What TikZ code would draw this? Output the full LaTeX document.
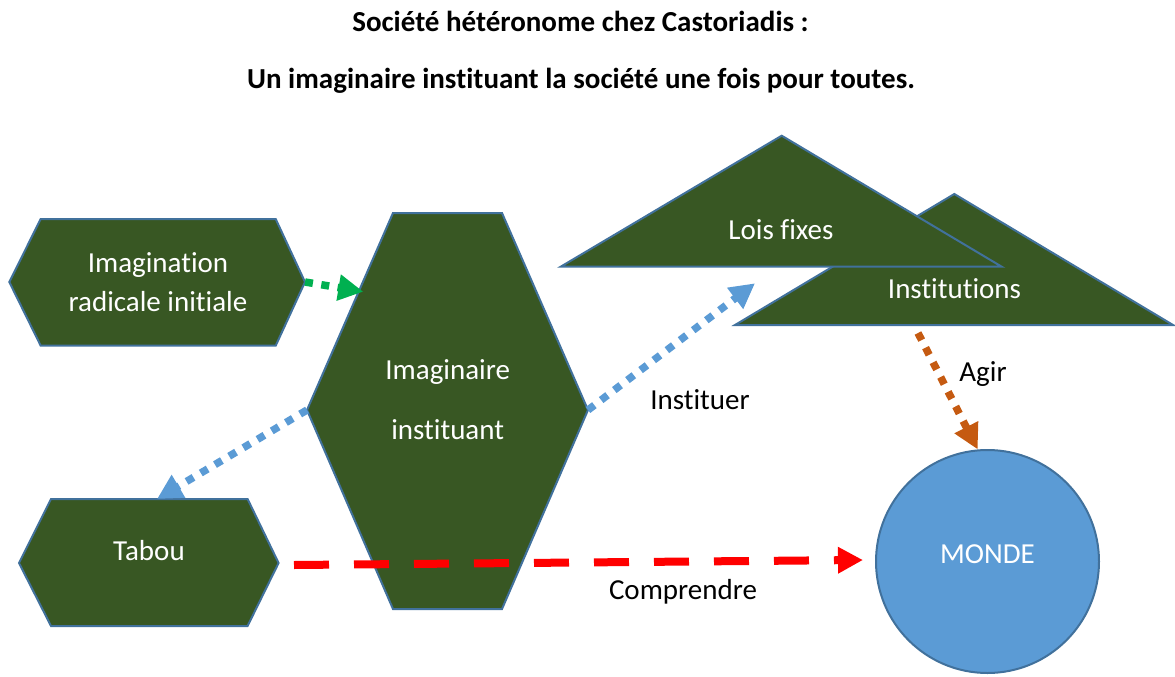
\documentclass[tikz,border=0pt]{standalone}
\usepackage{fontspec}
\setmainfont{Carlito}[Ligatures={NoCommon}]
\usetikzlibrary{arrows.meta}
\definecolor{shapegreen}{HTML}{385723}
\definecolor{edgeblue}{HTML}{41719C}
\definecolor{lightblue}{HTML}{5B9BD5}
\definecolor{dotgreen}{HTML}{00B050}
\definecolor{dotorange}{HTML}{C55A11}
\definecolor{dashred}{HTML}{FF0000}
\begin{document}
\begin{tikzpicture}[x=1pt,y=-1pt,
  shapefill/.style={fill=shapegreen, draw=edgeblue, line width=2pt, line join=miter},
  intext/.style={text=white, font=\fontsize{29}{38.3}\selectfont, inner sep=0pt, anchor=base},
  lbl/.style={text=black, font=\fontsize{29}{35}\selectfont, inner sep=0pt, anchor=base},
  titletext/.style={text=black, font=\bfseries\fontsize{29}{35}\selectfont, inner sep=0pt, anchor=base},
  headtri/.style={-{Triangle[length=25pt,width=25pt]}},
  dotline/.style={headtri, line width=7.5pt, dash pattern=on 8pt off 8.5pt},
  dashline/.style={headtri, line width=8pt, dash pattern=on 35pt off 25pt, draw=dashred}
]
\useasboundingbox (0,0) rectangle (1175,677);

% titles
\node[titletext] (t1) at (580.5,32) {Société hétéronome chez Castoriadis :};
\node[titletext] (t2) at (581,88.3) {Un imaginaire instituant la société une fois pour toutes.};

% Imagination radicale initiale
\draw[shapefill] (9.3,282) -- (40.7,219) -- (275.7,219) -- (305,282) -- (275.7,345.7) -- (40.7,345.7) -- cycle;
\node[intext] (imagination) at (158,272.7) {\begin{tabular}[t]{@{}c@{}}Imagination\\radicale initiale\end{tabular}};
\coordinate (imaginationE) at (305,282);

% Imaginaire instituant
\draw[shapefill] (307,410) -- (393,213) -- (502,213) -- (588,410) -- (502,609) -- (393,609) -- cycle;
\node[intext, font=\fontsize{29}{60}\selectfont] (imaginaire) at (447.7,379.3) {\begin{tabular}[t]{@{}c@{}}Imaginaire\\instituant\end{tabular}};
\coordinate (imaginaireW) at (307,410);
\coordinate (imaginaireE) at (588,410);
\coordinate (imaginaireHit) at (363.3,291.7);

% Tabou
\draw[shapefill] (19,563) -- (51,499) -- (247.6,499) -- (278.6,563) -- (247.6,626) -- (51,626) -- cycle;
\node[intext] (tabou) at (149,560.7) {Tabou};
\coordinate (tabouTop) at (157,499);

% Institutions (behind) and Lois fixes (front)
\draw[shapefill] (735,325) -- (954.3,194) -- (1173,325) -- cycle;
\node[intext] (institutions) at (954.5,298) {Institutions};
\draw[shapefill] (560.7,266.7) -- (781.7,135.7) -- (1001.7,266.7) -- cycle;
\node[intext] (lois) at (781,239.3) {Lois fixes};
\coordinate (loisHit) at (755,283.3);
\coordinate (institutionsOut) at (918,333);

% MONDE
\node[circle, fill=lightblue, draw=edgeblue, line width=2pt, minimum size=223pt, inner sep=0pt,
      text=white, font=\fontsize{29}{35}\selectfont, text depth=15.4pt] (monde) at (987.5,561.5) {MONDE};

% connectors
\draw[dotline, draw=dotgreen] (imaginationE) -- (imaginaireHit);
\draw[dotline, draw=lightblue] (imaginaireE) -- (loisHit);
\draw[dotline, draw=lightblue] (imaginaireW) -- (tabouTop);
\draw[dotline, draw=dotorange] (institutionsOut) -- (monde.95);
\coordinate (redStart) at (294,565);
\coordinate (redEnd) at (863,560);
\draw[dashline] (redStart) -- (redEnd);

% labels
\node[lbl] (instituer) at (700,409.3) {Instituer};
\node[lbl] (agir) at (983,381.7) {Agir};
\node[lbl] (comprendre) at (683,599.3) {Comprendre};
\end{tikzpicture}
\end{document}
